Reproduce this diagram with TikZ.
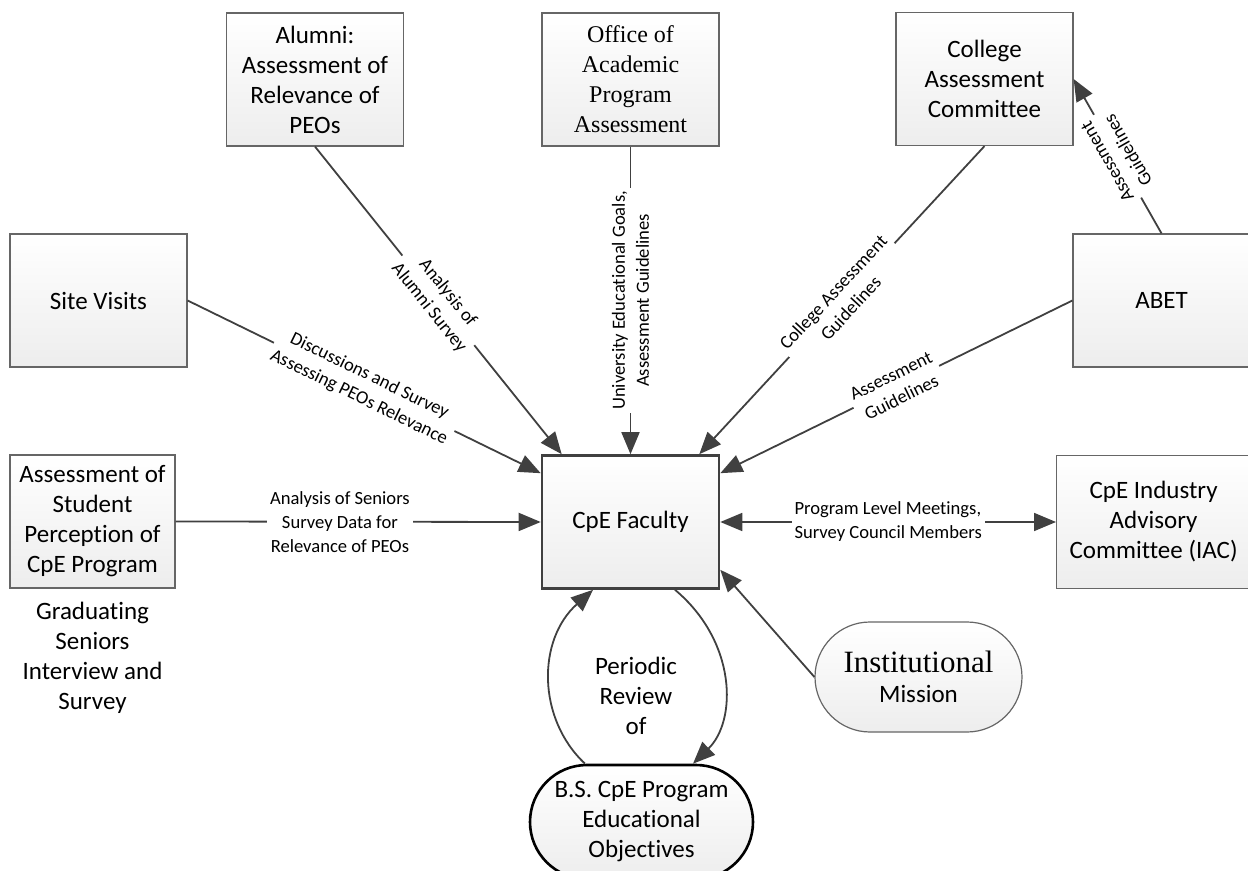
\documentclass[tikz,border=0pt]{standalone}
\usepackage{fontspec}
\setmainfont{Carlito}[Ligatures=NoCommon]
\newfontfamily\timesfont{Liberation Serif}[Ligatures=NoCommon]
\usetikzlibrary{shapes.misc, arrows.meta}
\tikzstyle{box} = [rectangle, draw=black!60, line width=0.6pt, top color=white, bottom color=black!7, minimum width=88.5pt, minimum height=66.5pt, align=center, font=\fontsize{12.5}{15}\selectfont]
\tikzstyle{mainbox} = [box, draw=black!75, line width=1.3pt]
\tikzstyle{oval} = [rounded rectangle, draw=black!60, line width=0.6pt, top color=white, bottom color=black!7, align=center, inner sep=1pt, font=\fontsize{12.5}{15}\selectfont]
\tikzstyle{plain} = [align=center, font=\fontsize{12.5}{15}\selectfont]
\tikzstyle{lbl} = [fill=white, inner sep=1.5pt, align=center, font=\fontsize{9.3}{12}\selectfont]
\tikzstyle{arrow} = [draw=black!75, line width=0.9pt, ->, >={Triangle[length=11pt,width=9pt]}]

\begin{document}
\begin{tikzpicture}[x=0.5pt, y=0.5pt]
    \useasboundingbox (0,0) rectangle (1248,-871);
    \clip (0,0) rectangle (1248,-871);
    \node [box] at (315,-79.5) (alumni) {Alumni:\\Assessment of\\Relevance of\\PEOs};
    \node [box, font=\timesfont\fontsize{12}{15}\selectfont] at (630.5,-79.5) (office) {Office of\\Academic\\Program\\Assessment};
    \node [box] at (984.5,-79) (college) {College\\Assessment\\Committee};
    \node [box] at (98.5,-300.5) (site) {Site Visits};
    \node [box] at (1161.5,-300.5) (abet) {ABET};
    \node [box, minimum width=82.5pt] at (92.5,-521.5) (student) {Assessment of\\Student\\Perception of\\CpE Program};
    \node [plain] at (92.5,-658) (grad) {Graduating\\Seniors\\Interview and\\Survey};
    \node [mainbox] at (630.5,-522) (cpe) {CpE Faculty};
    \node [box, anchor=west, minimum width=97pt] at (1056,-522) (iac) {CpE Industry\\Advisory\\Committee (IAC)};
    \node [oval, minimum width=105.5pt, minimum height=55pt] at (918.5,-677) (mission) {{\timesfont\fontsize{15.5}{17}\selectfont Institutional}\\Mission};
    \node [oval, draw=black, line width=1.3pt, minimum width=113.5pt, minimum height=57pt] at (641.5,-822) (peo) {B.S. CpE Program\\Educational\\Objectives};
    \node [plain] at (636,-696) (review) {Periodic\\Review\\of};
    % flows into the faculty
    \draw [arrow] (alumni.south) -- node[lbl, sloped] {Analysis of\\Alumni Survey} ([xshift=10.5pt]cpe.north west);
    \draw [arrow] (office.south) -- node[lbl, rotate=90] {University Educational Goals,\\Assessment Guidelines} (cpe.north);
    \draw [arrow] (college.south) -- node[lbl, sloped] {College Assessment\\Guidelines} ([xshift=-10.5pt]cpe.north east);
    \draw [arrow] (abet.west) -- node[lbl, sloped] {Assessment\\Guidelines} ([yshift=-9.5pt]cpe.north east);
    \draw [arrow] (abet.north) -- node[lbl, sloped, allow upside down] {Assessment\\Guidelines} (college.east);
    \draw [arrow] (site.east) -- node[lbl, sloped] {Discussions and Survey\\Assessing PEOs Relevance} ([yshift=-9.5pt]cpe.north west);
    \draw [arrow] (student.east) -- node[lbl, pos=0.45] {Analysis of Seniors\\Survey Data for\\Relevance of PEOs} (cpe.west);
    \draw [arrow, <->] (cpe.east) -- node[lbl, align=left] {Program Level Meetings,\\Survey Council Members} (iac.west);
    \draw [arrow] (mission.west) -- ([yshift=10pt]cpe.south east);
    % review loop
    \draw [arrow] ([xshift=-28.25pt]peo.north) .. controls +(-48,45) and +(-56,-50) .. ([xshift=-18.75pt]cpe.south);
    \draw [arrow] ([xshift=22.25pt]cpe.south) .. controls +(62,-52) and +(44,43) .. ([xshift=25.75pt]peo.north);
\end{tikzpicture}
\end{document}
